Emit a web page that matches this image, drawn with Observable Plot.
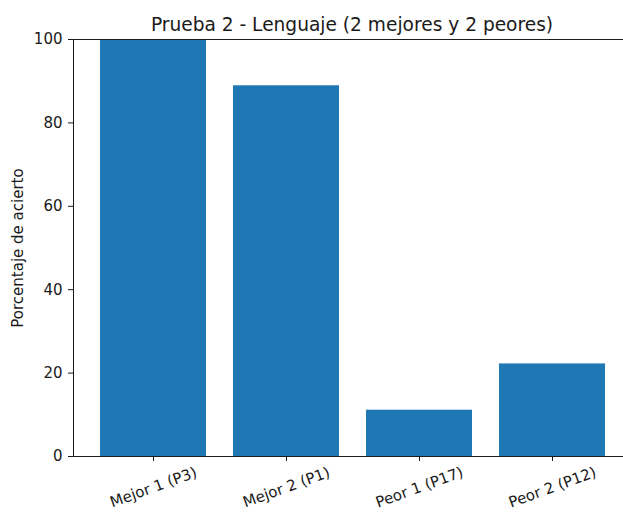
<!DOCTYPE html>
<html>
<head>
<meta charset="utf-8">
<script src="https://cdn.jsdelivr.net/npm/d3@7"></script>
<script src="https://cdn.jsdelivr.net/npm/@observablehq/plot@0.6"></script>
<style>
  html, body { margin: 0; padding: 0; background: #fff; }
  #chart { width: 623px; height: 513px; overflow: hidden; }
  svg { font-family: "DejaVu Sans", sans-serif; }
</style>
</head>
<body>
<div id="chart"></div>
<script>
const title = "Prueba 2 - Lenguaje (2 mejores y 2 peores)";
const yLabel = "Porcentaje de acierto";
const categories = ["Mejor 1 (P3)", "Mejor 2 (P1)", "Peor 1 (P17)", "Peor 2 (P12)"];
const values = [100, 88.9, 11.1, 22.2];
const yTicks = [0, 20, 40, 60, 80, 100];

const data = categories.map((c, i) => ({cat: c, val: values[i]}));
const ink = "#1a1a1a";

const chart = Plot.plot({
  width: 623,
  height: 513,
  marginLeft: 73,
  marginRight: -9,
  marginTop: 39,
  marginBottom: 57,
  style: {fontFamily: "DejaVu Sans, sans-serif", background: "#fff", color: ink},
  x: {domain: categories, paddingInner: 0.2, paddingOuter: 0.19, align: 0.5},
  y: {domain: [0, 100]},
  marks: [
    Plot.barY(data, {x: "cat", y: "val", fill: "#1f77b4"}),
    Plot.frame({stroke: ink, strokeWidth: 1}),
    Plot.axisY({ticks: yTicks, tickSize: 5, tickPadding: 6, fontSize: 15, label: null, stroke: ink, fill: ink}),
    Plot.axisX({tickSize: 5, tickFormat: () => "", label: null, stroke: ink}),
    Plot.text(data, {x: "cat", text: "cat", frameAnchor: "bottom", dy: 31, rotate: -20,
      textAnchor: "middle", lineAnchor: "middle", fontSize: 15, fill: ink}),
    Plot.text([title], {text: d => d, frameAnchor: "top", dy: -9, lineAnchor: "bottom",
      fontSize: 18.6, fill: ink, textAnchor: "middle", dx: -1}),
    Plot.text([yLabel], {text: d => d, frameAnchor: "left", dx: -55, rotate: -90,
      textAnchor: "middle", lineAnchor: "middle", fontSize: 15, fill: ink})
  ]
});
document.getElementById("chart").appendChild(chart);
</script>
</body>
</html>
